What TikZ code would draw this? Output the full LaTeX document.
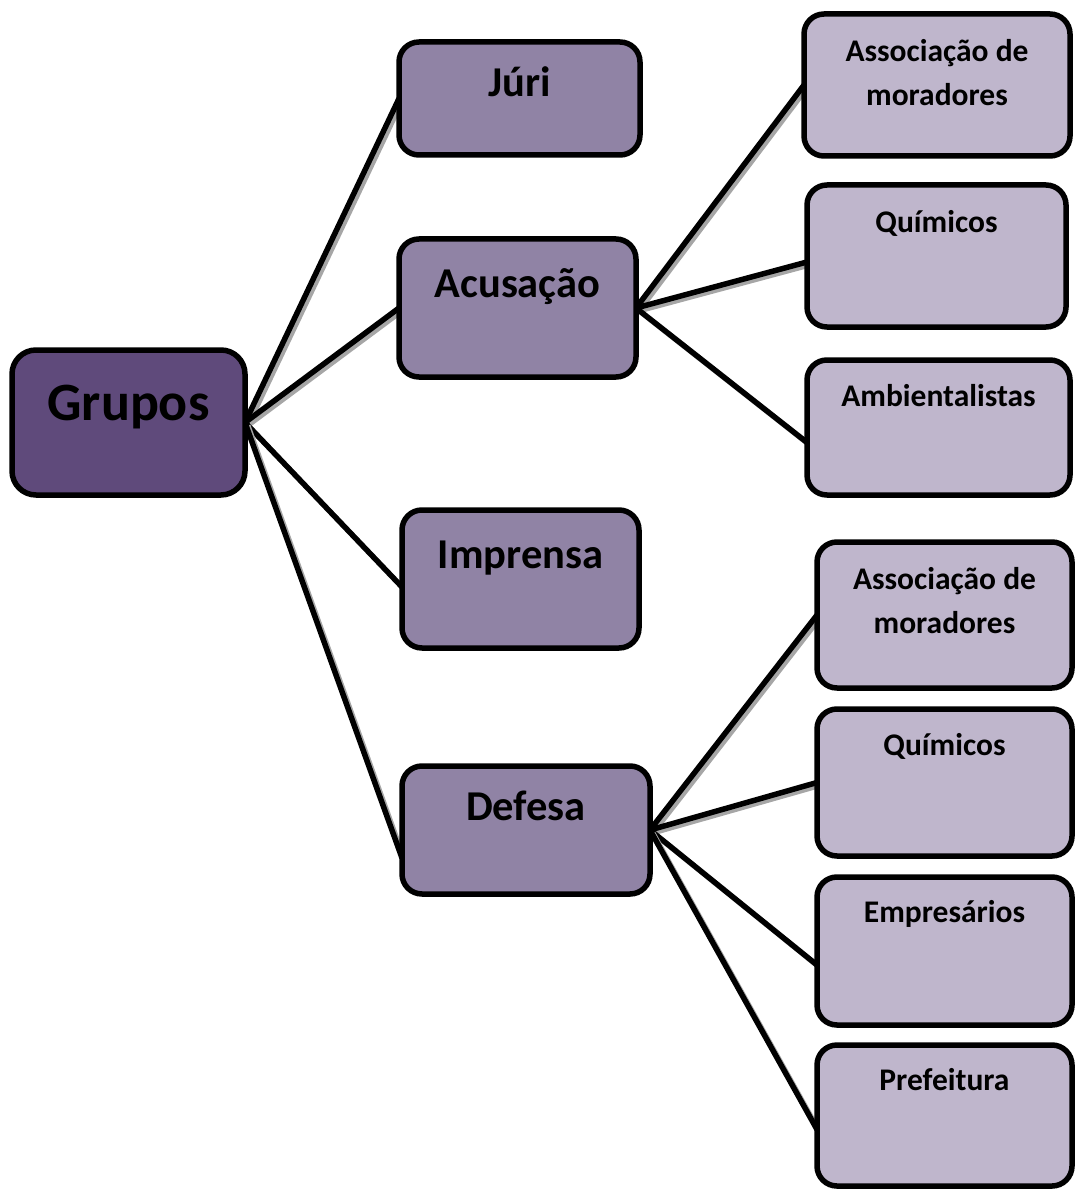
\documentclass[tikz,border=0pt]{standalone}
\usepackage{fontspec}
\setmainfont{Carlito}
\usepackage{xcolor}
\usetikzlibrary{backgrounds}

\definecolor{roxoEsc}{HTML}{5F4A7B}
\definecolor{roxoMed}{HTML}{9083A5}
\definecolor{roxoCla}{HTML}{BFB6CC}

% caixa: altura, largura, distancia ate a linha de base, texto
\newcommand{\caixa}[4]{\parbox[c][#1pt][t]{#2pt}{\centering\rule{0pt}{#3pt}#4}}

\begin{document}
\begin{tikzpicture}[x=1pt, y=-1pt,
    caixabase/.style={draw=black, line width=5.5pt, rounded corners=20pt,
      inner sep=0pt, outer sep=0pt, anchor=north west, font=\bfseries},
    nivelA/.style={caixabase, fill=roxoEsc, rounded corners=24pt,
      font=\bfseries\fontsize{54}{64}\selectfont},
    nivelB/.style={caixabase, fill=roxoMed,
      font=\bfseries\fontsize{42.5}{50}\selectfont},
    nivelC/.style={caixabase, fill=roxoCla,
      font=\bfseries\fontsize{31.5}{44}\selectfont},
    ligacao/.style={line width=5.5pt,
      preaction={draw=black!35, line width=5pt,
        transform canvas={xshift=3pt, yshift=-3pt}}}]
    \useasboundingbox (0,0) rectangle (1074,1190);

    % raiz
    \node[nivelA] (grupos) at (12,350) {\caixa{145}{233}{70}{Grupos}};

    % segundo nivel
    \node[nivelB] (juri) at (399,42) {\caixa{113}{241}{55}{Júri}};
    \node[nivelB] (acusacao) at (399,239) {\caixa{138}{237}{58}{Acusação}};
    \node[nivelB] (imprensa) at (402,510) {\caixa{138}{237}{58}{Imprensa}};
    \node[nivelB] (defesa) at (402,766) {\caixa{128}{248}{54}{Defesa}};

    % terceiro nivel (acusacao)
    \node[nivelC] (assocA) at (804,14) {\caixa{142}{266}{48}{Associação de\\moradores}};
    \node[nivelC] (quimA) at (807,185) {\caixa{142}{259}{47}{Químicos}};
    \node[nivelC] (ambient) at (807,360) {\caixa{135}{263}{46}{Ambientalistas}};

    % terceiro nivel (defesa)
    \node[nivelC] (assocD) at (817,542) {\caixa{146}{255}{47}{Associação de\\moradores}};
    \node[nivelC] (quimD) at (817,709) {\caixa{147}{255}{46}{Químicos}};
    \node[nivelC] (empres) at (817,877) {\caixa{148}{255}{45}{Empresários}};
    \node[nivelC] (prefeit) at (817,1045) {\caixa{141}{255}{45}{Prefeitura}};

    \begin{scope}[on background layer]
      \draw[ligacao] (grupos.east) -- (juri.west);
      \draw[ligacao] (grupos.east) -- (acusacao.west);
      \draw[ligacao] (grupos.east) -- ([yshift=-8pt]imprensa.west);
      \draw[ligacao] (grupos.east) -- ([yshift=-28pt]defesa.west);

      \draw[ligacao] (acusacao.east) -- (assocA.west);
      \draw[ligacao] (acusacao.east) -- ([yshift=-6pt]quimA.west);
      \draw[ligacao] (acusacao.east) -- ([yshift=-15pt]ambient.west);

      \draw[ligacao] (defesa.east) -- (assocD.west);
      \draw[ligacao] (defesa.east) -- (quimD.west);
      \draw[ligacao] (defesa.east) -- ([yshift=-14pt]empres.west);
      \draw[ligacao] (defesa.east) -- ([yshift=-14pt]prefeit.west);
    \end{scope}
\end{tikzpicture}
\end{document}
